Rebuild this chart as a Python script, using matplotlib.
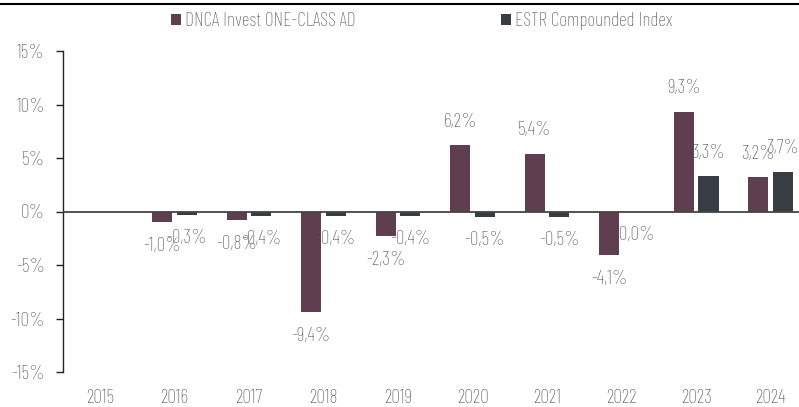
import numpy as np
import matplotlib
matplotlib.use('Agg')
import matplotlib.pyplot as plt

plt.rcParams['font.family'] = ['Barlow Condensed', 'DejaVu Sans']

# données
years = ['2015', '2016', '2017', '2018', '2019', '2020', '2021', '2022', '2023', '2024']
dnca = [np.nan, -1.0, -0.8, -9.4, -2.3, 6.2, 5.4, -4.1, 9.3, 3.2]
estr = [np.nan, -0.3, -0.4, -0.4, -0.4, -0.5, -0.5, -0.02, 3.3, 3.7]
series_names = ['DNCA Invest ONE-CLASS AD', 'ESTR Compounded Index']
yticks = [-15, -10, -5, 0, 5, 10, 15]

C_DNCA = '#5f3f4f'
C_ESTR = '#383d44'
C_TEXT = '#555555'
FS = 14

fig = plt.figure(figsize=(7.99, 4.07), dpi=100)
ax = fig.add_axes([63 / 799, 35 / 407, 736 / 799, 321 / 407])

x = np.arange(len(years))
w = 0.27
off = 0.165
b1 = ax.bar(x - off, dnca, w, color=C_DNCA, label=series_names[0])
b2 = ax.bar(x + off, estr, w, color=C_ESTR, label=series_names[1])

# étiquettes de valeur
for xs, vals in ((x - off, dnca), (x + off, estr)):
    for xi, v in zip(xs, vals):
        if np.isnan(v):
            continue
        txt = f"{v:.1f}%".replace('.', ',')
        dy = 17 if v >= 0 else -17
        ax.annotate(txt, (xi, v), xytext=(0, dy), textcoords='offset points',
                    ha='center', va='center', fontsize=FS, color=C_TEXT,
                    fontweight='light', zorder=5)

ax.axhline(0, color='#444444', lw=1.3, zorder=3)

ax.set_ylim(-15, 15)
ax.set_xlim(-0.497, 9.38)
ax.set_yticks(yticks)
ax.set_yticklabels([f"{t}%" for t in yticks], fontweight='light')
ax.set_xticks(x)
ax.set_xticklabels(years, fontweight='light')

for s in ('top', 'right', 'bottom'):
    ax.spines[s].set_visible(False)
ax.spines['left'].set_color('#222222')
ax.spines['left'].set_linewidth(1.0)
ax.tick_params(axis='y', length=5, width=1.0, color='#222222', pad=8,
               labelsize=FS, labelcolor=C_TEXT)
ax.tick_params(axis='x', length=0, pad=12, labelsize=FS, labelcolor=C_TEXT)

# légende en haut : une entrée par série, placée à la main
leg_prop = {'size': FS, 'weight': 'light'}
for h, xpos in ((b1, 171), (b2, 501)):
    fig.legend(handles=[h], loc='center left', bbox_to_anchor=(xpos / 799, 1 - 21 / 407),
               frameon=False, labelcolor=C_TEXT, prop=leg_prop,
               handlelength=0.5, handleheight=0.5, handletextpad=0.2,
               borderaxespad=0, borderpad=0)

# trait en haut
fig.add_artist(plt.Line2D([0, 1], [1 - 4 / 407, 1 - 4 / 407], color='black', lw=1.5,
                          transform=fig.transFigure))

fig.savefig('out.png', dpi=100)
